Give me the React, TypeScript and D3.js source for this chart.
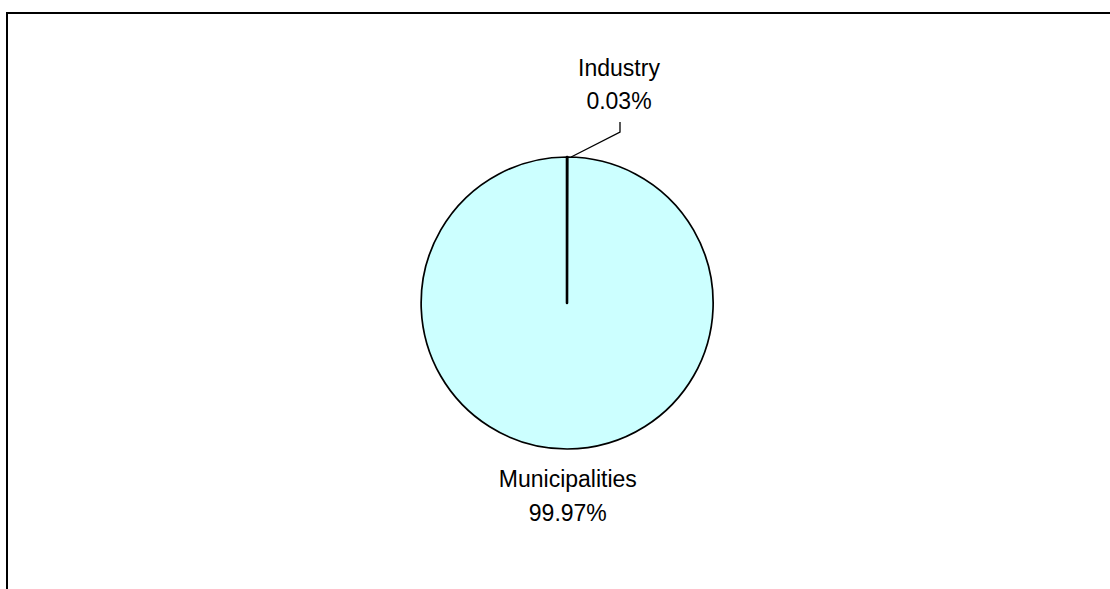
import React from "react";
import * as d3 from "d3";

const categories = ["Industry", "Municipalities"];
const values = [0.03, 99.97];
const labels = ["0.03%", "99.97%"];

const W = 1110;
const H = 589;
const cx = 567;
const cy = 303;
const R = 146;

export default function App() {
  const pie = d3.pie<number>().sort(null).value((d) => d)(values);
  const arc = d3.arc<d3.PieArcDatum<number>>().innerRadius(0).outerRadius(R);

  const ind = pie[0];
  const indMid = (ind.startAngle + ind.endAngle) / 2;
  const edge: [number, number] = [cx + R * Math.sin(indMid) + 4, cy - R * Math.cos(indMid)];
  const elbow: [number, number] = [cx + 53, cy - 171];
  const top: [number, number] = [cx + 53, cy - 181];

  const mun = pie[1];
  const munMid = (mun.startAngle + mun.endAngle) / 2;
  const munX = cx + (R + 38) * Math.sin(munMid);
  const munY = cy - (R + 38) * Math.cos(munMid);

  const font = "'Liberation Sans', Arial, sans-serif";
  const order = [1, 0];

  return (
    <svg
      width={W}
      height={H}
      style={{ position: "absolute", left: 0, top: 0, background: "#fff" }}
    >
      <rect x={7} y={13} width={W + 20} height={H + 20} fill="#fff" stroke="#000" strokeWidth={2} />
      <g transform={`translate(${cx},${cy})`}>
        {order.map((i) => (
          <path
            key={categories[i]}
            d={arc(pie[i]) || ""}
            fill="#CCFFFF"
            stroke="#000"
            strokeWidth={i === 0 ? 2.6 : 1.7}
            strokeLinejoin="round"
          />
        ))}
      </g>
      <polyline
        points={[edge, elbow, top].map((p) => p.join(",")).join(" ")}
        fill="none"
        stroke="#000"
        strokeWidth={1.3}
      />
      <g fontFamily={font} fontSize={23} fill="#000" textAnchor="middle">
        <text x={cx + 52} y={76}>{categories[0]}</text>
        <text x={cx + 52} y={109}>{labels[0]}</text>
        <text x={munX + 1} y={munY}>{categories[1]}</text>
        <text x={munX + 1} y={munY + 34}>{labels[1]}</text>
      </g>
    </svg>
  );
}
